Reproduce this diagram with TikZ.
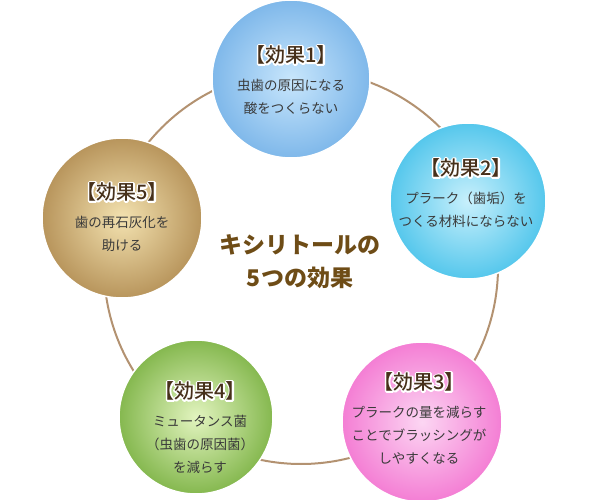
\documentclass[tikz,border=0pt]{standalone}
\usepackage{fontspec}
\newfontfamily\jp{Noto Sans CJK JP}
\newfontfamily\jpm{Noto Sans CJK JP Medium}
\usetikzlibrary{positioning}

\definecolor{ringline}{HTML}{B39271}
\definecolor{titlebrown}{HTML}{46301A}
\definecolor{bodygray}{HTML}{3A3A3A}
\definecolor{mainbrown}{HTML}{6E4C16}
\definecolor{blauin}{HTML}{C8E6FC}
\definecolor{blauout}{HTML}{7FB8EA}
\definecolor{cyanin}{HTML}{C8F0FC}
\definecolor{cyanout}{HTML}{55C7EC}
\definecolor{rosain}{HTML}{FCD6F3}
\definecolor{rosaout}{HTML}{F47ED4}
\definecolor{gruenin}{HTML}{E2F4BF}
\definecolor{gruenout}{HTML}{85B84F}
\definecolor{goldin}{HTML}{F3E2B0}
\definecolor{goldout}{HTML}{B8955C}

% weisser Rand um die Titel (Text wird zuerst nur umrandet)
\newcommand\halo[1]{\rlap{\special{pdf:literal direct 1 Tr 3.2 w 1 j 1 1 1 RG}#1\special{pdf:literal direct 0 Tr}}#1}

\tikzset{
  kreis/.style 2 args={circle, draw=white, line width=1.5pt, minimum size=156pt,
    inner sep=0pt, inner color=#1, outer color=#2},
  titel/.style={inner sep=0pt, text=titlebrown, font=\jpm\fontsize{20}{22}\selectfont},
  inhalt/.style={inner sep=0pt, align=center, text=bodygray,
    font=\jp\fontsize{13.5}{23}\selectfont},
}

\begin{document}
\begin{tikzpicture}[x=1pt, y=-1pt]
  \useasboundingbox (0,0) rectangle (600,500);
  \coordinate (o) at (301,267);
  \draw[ringline, line width=2pt] (o) circle (197);

  % die fuenf Kreise
  \node[kreis={blauin}{blauout}, minimum size=158pt] (k1) at (291,79) {};
  \node[kreis={cyanin}{cyanout}] (k2) at (468,201) {};
  \node[kreis={rosain}{rosaout}, minimum size=160pt] (k3) at (422,422) {};
  \node[kreis={gruenin}{gruenout}, minimum size=154pt] (k4) at (196,417) {};
  \node[kreis={goldin}{goldout}, minimum size=160pt] (k5) at (122,218) {};

  \node[titel] (t1) at (291,55) {\halo{【効果1】}};
  \node[inhalt, below=14pt of t1] (b1) {虫歯の原因になる\\酸をつくらない};
  \node[titel] (t2) at (466,168) {\halo{【効果2】}};
  \node[inhalt, below=14pt of t2] (b2) {プラーク（歯垢）を\\つくる材料にならない};
  \node[titel] (t3) at (419,382) {\halo{【効果3】}};
  \node[inhalt, below=14pt of t3] (b3) {プラークの量を減らす\\ことでブラッシングが\\しやすくなる};
  \node[titel] (t4) at (200,391) {\halo{【効果4】}};
  \node[inhalt, below=14pt of t4] (b4) {ミュータンス菌\\（虫歯の原因菌）\\を減らす};
  \node[titel] (t5) at (122,192) {\halo{【効果5】}};
  \node[inhalt, below=14pt of t5] (b5) {歯の再石灰化を\\助ける};

  \node[align=center, inner sep=0pt, text=mainbrown,
    font=\jp\bfseries\fontsize{23}{33}\selectfont] (mitte) at (300,262)
    {キシリトールの\\5つの効果};
\end{tikzpicture}
\end{document}
